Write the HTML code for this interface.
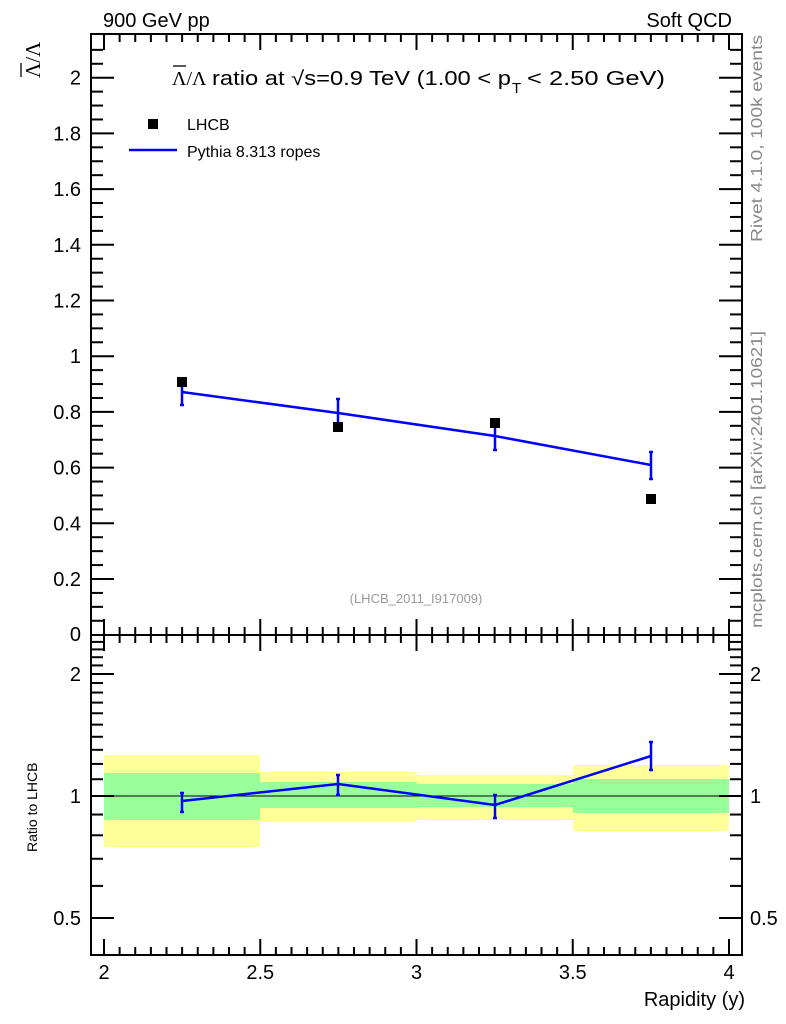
<!DOCTYPE html>
<html><head><meta charset="utf-8"><style>
html,body{margin:0;padding:0;background:#fff;}
svg{display:block;font-family:"Liberation Sans",Arial,sans-serif;}
</style></head><body>
<svg id="s" width="786" height="1024" viewBox="0 0 786 1024" xmlns="http://www.w3.org/2000/svg">
<rect x="104" y="755" width="156" height="92" fill="#ffff99"/>
<rect x="104" y="773" width="156" height="47" fill="#99ff99"/>
<rect x="260" y="772" width="157" height="50" fill="#ffff99"/>
<rect x="260" y="782" width="157" height="26" fill="#99ff99"/>
<rect x="417" y="775" width="156" height="45" fill="#ffff99"/>
<rect x="417" y="784" width="156" height="23" fill="#99ff99"/>
<rect x="573" y="765" width="156" height="66" fill="#ffff99"/>
<rect x="573" y="779" width="156" height="34" fill="#99ff99"/>
<line x1="91" y1="796" x2="742" y2="796" stroke="#000" stroke-width="1"/>
<g id="ticks" stroke="#000" stroke-width="2"></g>
<rect x="91" y="34" width="651" height="921" fill="none" stroke="#000" stroke-width="2"/>
<line x1="91" y1="635" x2="742" y2="635" stroke="#000" stroke-width="2"/>
<g stroke="#0000ff" stroke-width="2.5" fill="none">
<polyline points="182,392 338,413 495,436 651,465"/>
<line x1="182" y1="381" x2="182" y2="405"/><line x1="180" y1="381" x2="184" y2="381"/><line x1="180" y1="405" x2="184" y2="405"/>
<line x1="338" y1="399" x2="338" y2="428"/><line x1="336" y1="399" x2="340" y2="399"/><line x1="336" y1="428" x2="340" y2="428"/>
<line x1="495" y1="422" x2="495" y2="450"/><line x1="493" y1="422" x2="497" y2="422"/><line x1="493" y1="450" x2="497" y2="450"/>
<line x1="651" y1="452" x2="651" y2="479"/><line x1="649" y1="452" x2="653" y2="452"/><line x1="649" y1="479" x2="653" y2="479"/>
<polyline points="182,801 338,784 495,805 651,756"/>
<line x1="182" y1="793" x2="182" y2="812"/><line x1="180" y1="793" x2="184" y2="793"/><line x1="180" y1="812" x2="184" y2="812"/>
<line x1="338" y1="775" x2="338" y2="795"/><line x1="336" y1="775" x2="340" y2="775"/><line x1="336" y1="795" x2="340" y2="795"/>
<line x1="495" y1="795" x2="495" y2="818"/><line x1="493" y1="795" x2="497" y2="795"/><line x1="493" y1="818" x2="497" y2="818"/>
<line x1="651" y1="742" x2="651" y2="770"/><line x1="649" y1="742" x2="653" y2="742"/><line x1="649" y1="770" x2="653" y2="770"/>
</g>
<g fill="#000">
<rect x="177" y="377" width="10" height="10"/>
<rect x="333" y="422" width="10" height="10"/>
<rect x="490" y="418" width="10" height="10"/>
<rect x="646" y="494" width="10" height="10"/>
<rect x="148" y="119" width="10" height="10"/>
</g>
<line x1="129" y1="150" x2="177" y2="150" stroke="#0000ff" stroke-width="2.5"/>
<g font-size="16" fill="#000">
<text x="187" y="130">LHCB</text>
<text x="187" y="157">Pythia 8.313 ropes</text>
</g>
<g font-size="20" fill="#000">
<text x="103" y="27">900 GeV pp</text>
<text x="732" y="27" text-anchor="end">Soft QCD</text>
<text x="745" y="1006" text-anchor="end">Rapidity (y)</text>
<text x="172" y="85" font-family="Liberation Serif,serif">Λ/Λ</text>
<text x="212" y="85" textLength="299" lengthAdjust="spacingAndGlyphs">ratio at √s=0.9 TeV (1.00 &lt; p</text>
<text x="512" y="93" font-size="15">T</text>
<text x="527" y="85" textLength="138" lengthAdjust="spacingAndGlyphs">&lt; 2.50 GeV)</text>
</g>
<line x1="173" y1="66" x2="186" y2="66" stroke="#000" stroke-width="1.3"/>
<text transform="translate(40,78) rotate(-90)" font-size="21" font-family="Liberation Serif,serif" fill="#000">Λ/Λ</text>
<line x1="21" y1="77" x2="21" y2="63" stroke="#000" stroke-width="1.3"/>
<text transform="translate(37,852) rotate(-90)" font-size="14" fill="#000">Ratio to LHCB</text>
<text x="416" y="603" font-size="13" fill="#999" text-anchor="middle">(LHCB_2011_I917009)</text>
<text transform="translate(762,242) rotate(-90)" font-size="16" fill="#888" textLength="207" lengthAdjust="spacingAndGlyphs">Rivet 4.1.0,  100k events</text>
<text transform="translate(762,628) rotate(-90)" font-size="16" fill="#888" textLength="297" lengthAdjust="spacingAndGlyphs">mcplots.cern.ch [arXiv:2401.10621]</text>
<g id="labels" font-size="20" fill="#000"></g>
</svg>
<script>
var t=document.getElementById('ticks'),L=document.getElementById('labels'),ns='http://www.w3.org/2000/svg';
function ln(a,b,c,d){var e=document.createElementNS(ns,'line');e.setAttribute('x1',a);e.setAttribute('y1',b);e.setAttribute('x2',c);e.setAttribute('y2',d);t.appendChild(e);}
function tx(x,y,s,anc){var e=document.createElementNS(ns,'text');e.setAttribute('x',x);e.setAttribute('y',y);e.setAttribute('text-anchor',anc);e.textContent=s;L.appendChild(e);}
function X(v){return 104+(v-2)*312.5;}
for(var i=0;i<=41;i++){var v=1.95+i*0.05;var x=X(v);if(x<92||x>741)continue;var maj=(Math.abs(v*2-Math.round(v*2))<1e-6);var len=maj?15:7;
ln(x,35,x,35+len);ln(x,634,x,634-len);ln(x,636,x,636+len);ln(x,954,x,954-len);
if(maj)tx(x,979,(Math.round(v*10)/10).toString(),'middle');}
function Y(v){return 634.7-v*278.5;}
for(var i=0;i<=43;i++){var v=i*0.05;var y=Y(v);if(y<36||y>634)continue;var maj=(i%4==0);var len=maj?22:11;
ln(92,y,92+len,y);ln(741,y,741-len,y);if(maj&&i>0)tx(81,y+7,(Math.round(v*10)/10).toString(),'end');}
function R(v){return 796-Math.log(v)/Math.LN2*122;}
var rv=[0.4,0.5,0.6,0.7,0.8,0.9,1,1.1,1.2,1.3,1.4,1.5,1.6,1.7,1.8,1.9,2,2.1,2.2,2.3,2.4];
rv.forEach(function(v){var y=R(v);if(y<637||y>953)return;var maj=(v==0.5||v==1||v==2);var len=maj?22:11;ln(92,y,92+len,y);ln(741,y,741-len,y);
if(maj){tx(81,y+7,v.toString(),'end');tx(750,y+7,v.toString(),'start');}});
tx(81,641,'0','end');
</script>
</body></html>
